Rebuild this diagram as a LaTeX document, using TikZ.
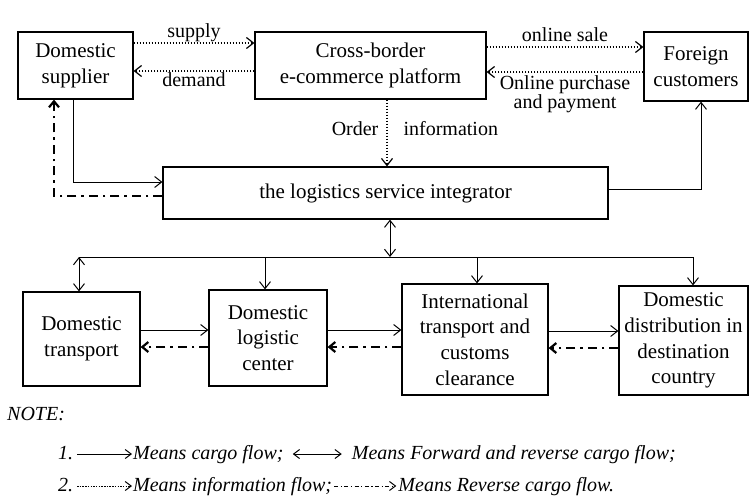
\documentclass[tikz,border=0pt]{standalone}
\usepackage{fontspec}
\setmainfont{Liberation Serif}
\usetikzlibrary{arrows.meta}
\begin{document}
\begin{tikzpicture}[x=1pt,y=-1pt,
  box/.style={draw, line width=1.2pt, inner sep=0pt, align=center, font=\fontsize{21}{25.7}\selectfont},
  lbl/.style={font=\fontsize{20}{18}\selectfont, inner sep=1pt, align=center},
  note/.style={font=\fontsize{20}{22}\selectfont\itshape, inner sep=0pt},
  cargo/.style={line width=1pt, -{Straight Barb[length=7pt,width=11pt]}},
  twoway/.style={line width=1pt, {Straight Barb[length=7pt,width=11pt]}-{Straight Barb[length=7pt,width=11pt]}},
  info/.style={line width=1.2pt, dash pattern=on 1.5pt off 1.5pt, -{Straight Barb[length=7pt,width=11pt]}},
  rev/.style={line width=2.2pt, dash pattern=on 9pt off 5pt on 2.5pt off 5pt, -{Straight Barb[length=6pt,width=10pt]}},
  keyline/.style={line width=1pt, -{Straight Barb[length=6pt,width=9pt]}}]
\useasboundingbox (0,0) rectangle (750,499);

% top row
\node[box, minimum width=115pt, minimum height=67pt] (sup) at (75.5,65.5) {Domestic\\supplier};
\node[box, minimum width=231pt, minimum height=67pt] (cbp) at (370.5,65.5) {Cross-border\\e-commerce platform};
\node[box, minimum width=104pt, minimum height=69pt] (fc) at (696,66.5) {Foreign\\customers};
% integrator
\node[box, minimum width=445pt, minimum height=52pt] (lsi) at (385.5,193) {the logistics service integrator};
% bottom row
\node[box, minimum width=117pt, minimum height=94pt] (dt) at (81.5,339) {Domestic\\transport};
\node[box, minimum width=118pt, minimum height=96pt] (dlc) at (268,338) {Domestic\\logistic\\center};
\node[box, minimum width=146pt, minimum height=111pt] (intl) at (475,339.5) {International\\transport and\\customs\\clearance};
\node[box, minimum width=129pt, minimum height=109pt] (dist) at (683.5,340.5) {Domestic\\distribution in\\destination\\country};

% information flows
\draw[info] ([yshift=22.5pt]sup.east) -- node[lbl, above] {supply} ([yshift=22.5pt]cbp.west);
\draw[info] ([yshift=-5.5pt]cbp.west) -- node[lbl, below] {demand} ([yshift=-5.5pt]sup.east);
\draw[info] ([yshift=18.5pt]cbp.east) -- node[lbl, above=4pt] {online sale} ([yshift=18.5pt]cbp.east -| fc.west);
\draw[info] ([yshift=-5.5pt]fc.west) -- node[lbl, below=2pt] {Online purchase\\and payment} ([yshift=-5.5pt]fc.west -| cbp.east);
\draw[info] ([xshift=16.5pt]cbp.south) -- node[lbl, pos=0.53, anchor=base east, xshift=-7pt] {Order}
  node[lbl, pos=0.53, anchor=base west, xshift=15pt] {information} ([xshift=16.5pt]cbp.south |- lsi.north);

% cargo flows around integrator
\draw[cargo] ([xshift=-2.5pt]sup.south) |- ([yshift=11pt]lsi.west);
\draw[rev] ([yshift=-3pt]lsi.west) -| ([xshift=-21.5pt]sup.south);
\draw[cargo] ([yshift=4pt]lsi.east) -| ([xshift=5pt]fc.south);

% bus
\coordinate (bL) at (79,257);
\coordinate (b2) at (265,257);
\coordinate (b3) at (477,257);
\coordinate (bR) at (693,257);
\draw[line width=1pt] (bL) -- (bR);
\draw[twoway] ([xshift=4.5pt]lsi.south) -- ([xshift=4.5pt]lsi.south |- bL);
\draw[twoway] (bL) -- (bL |- dt.north);
\draw[cargo] (b2) -- (b2 |- dlc.north);
\draw[cargo] (b3) -- (b3 |- intl.north);
\draw[cargo] (bR) -- (bR |- dist.north);

% bottom row flows
\draw[cargo] ([yshift=9pt]dt.east) -- ([yshift=9pt]dt.east -| dlc.west);
\draw[cargo] ([yshift=8pt]dlc.east) -- ([yshift=8pt]dlc.east -| intl.west);
\draw[cargo] ([yshift=8.5pt]intl.east) -- ([yshift=8.5pt]intl.east -| dist.west);
\draw[rev] ([yshift=-9pt]dlc.west) -- ([yshift=-9pt]dlc.west -| dt.east);
\draw[rev] ([yshift=-7.5pt]intl.west) -- ([yshift=-7.5pt]intl.west -| dlc.east);
\draw[rev] ([yshift=-7.5pt]dist.west) -- ([yshift=-7.5pt]dist.west -| intl.east);

% legend
\node[note, anchor=base west] (nt) at (7,420) {NOTE:};
\node[note, anchor=base west] (n1) at (58,459) {1.};
\coordinate (l1a) at (77,454);
\coordinate (l1b) at (132,454);
\draw[keyline] (l1a) -- (l1b);
\node[note, anchor=base west] (t1) at (133,459) {Means cargo flow;};
\coordinate (l2a) at ([xshift=9pt,yshift=5pt]t1.base east);
\coordinate (l2b) at ([xshift=58pt,yshift=5pt]t1.base east);
\draw[keyline, {Straight Barb[length=6pt,width=9pt]}-{Straight Barb[length=6pt,width=9pt]}] (l2a) -- (l2b);
\node[note, anchor=base west] (t2) at ([xshift=68pt]t1.base east) {Means Forward and reverse cargo flow;};

\node[note, anchor=base west] (n2) at (58,491) {2.};
\coordinate (l3a) at (77,486);
\coordinate (l3b) at (132,486);
\draw[keyline, dash pattern=on 1.5pt off 1.2pt] (l3a) -- (l3b);
\node[note, anchor=base west] (t3) at (133,491) {Means information flow;};
\coordinate (l4a) at ([xshift=2pt,yshift=5pt]t3.base east);
\coordinate (l4b) at ([xshift=64pt,yshift=5pt]t3.base east);
\draw[keyline, dash pattern=on 4pt off 2.5pt on 1.2pt off 2.5pt] (l4a) -- (l4b);
\node[note, anchor=base west] (t4) at ([xshift=66pt]t3.base east) {Means Reverse cargo flow.};
\end{tikzpicture}
\end{document}
